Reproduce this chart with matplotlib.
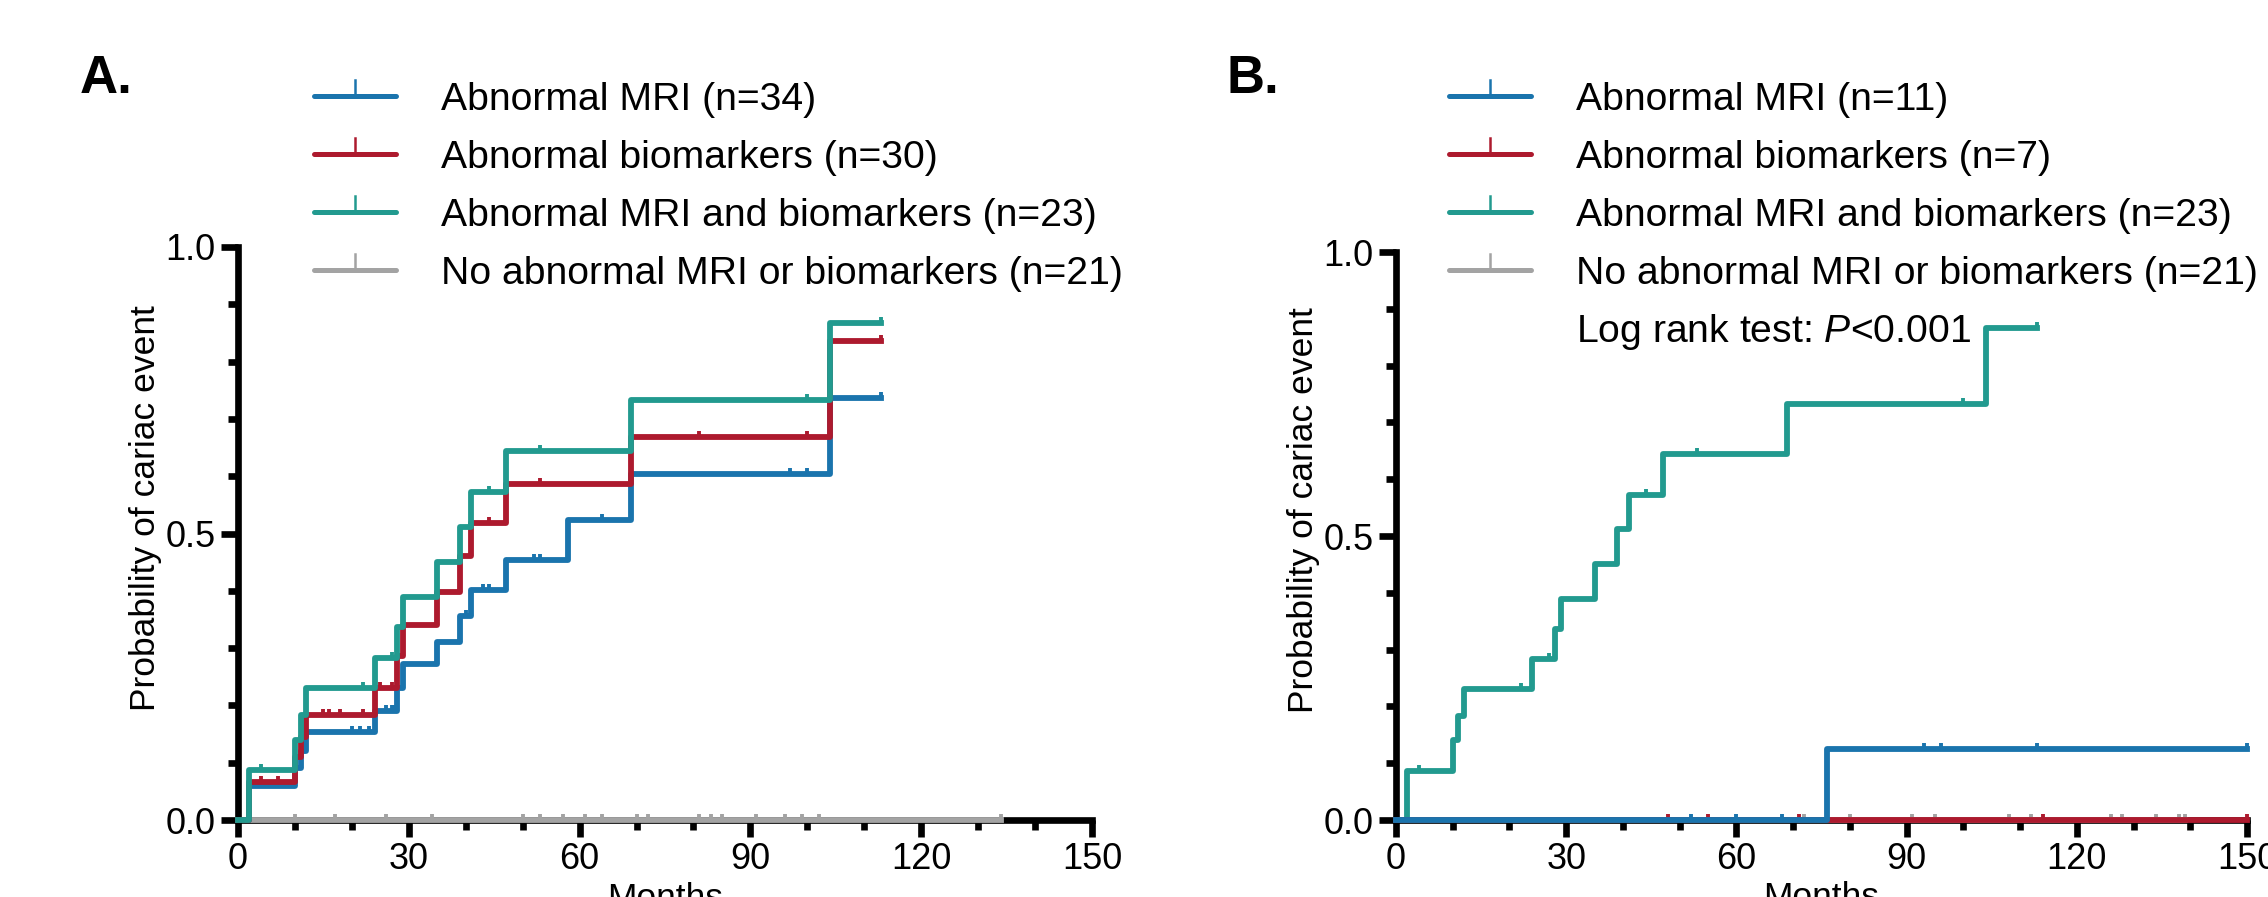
import numpy as np
import matplotlib
matplotlib.use('Agg')
import matplotlib.pyplot as plt
from matplotlib.path import Path
from matplotlib.lines import Line2D
from matplotlib.ticker import MultipleLocator, FormatStrFormatter

plt.rcParams['font.family'] = ['Liberation Sans', 'DejaVu Sans']
plt.rcParams['mathtext.fontset'] = 'custom'
plt.rcParams['mathtext.rm'] = 'Liberation Sans'
plt.rcParams['mathtext.it'] = 'Liberation Sans:italic'

BLUE = '#1a74ad'
RED = '#ad1a2e'
TEAL = '#229a8f'
GRAY = '#a3a3a3'

# ---- Panel A: event times (months), cumulative probability after each event, censor times
a_mri_t = [2, 10, 11, 12, 24, 28, 29, 35, 39, 41, 47, 58, 69, 104]
a_mri_p = [0.059, 0.091, 0.121, 0.153, 0.191, 0.231, 0.272, 0.310, 0.356, 0.402, 0.454, 0.524, 0.603, 0.737]
a_mri_c = [4, 9, 20, 21.5, 23, 26, 27, 27.6, 40, 43, 44, 52, 53, 64, 97, 100, 113]

a_bio_t = [2, 10, 11, 12, 24, 28, 29, 35, 39, 41, 47, 69, 104]
a_bio_p = [0.067, 0.110, 0.144, 0.184, 0.231, 0.287, 0.340, 0.398, 0.460, 0.518, 0.587, 0.669, 0.836]
a_bio_c = [4, 7, 15, 16, 18, 22, 25, 27, 44, 53, 81, 100, 113]

both_t = [2, 10, 11, 12, 24, 28, 29, 35, 39, 41, 47, 69, 104]
both_p = [0.087, 0.140, 0.183, 0.231, 0.283, 0.337, 0.389, 0.450, 0.512, 0.573, 0.644, 0.733, 0.867]
both_c = [4, 22, 27, 44, 53, 100, 113]

a_none_t = []
a_none_p = []
a_none_c = [10, 17, 26, 34, 50, 53, 57, 61, 64, 70, 72, 81, 83, 85, 91, 96, 99, 102, 134]

# ---- Panel B
b_mri_t = [76]
b_mri_p = [0.125]
b_mri_c = [52, 60, 68, 93, 96, 113, 150]

b_bio_t = []
b_bio_p = []
b_bio_c = [48, 55, 71, 114, 150]

b_none_t = []
b_none_p = []
b_none_c = [72, 80, 91, 95, 108, 112, 126, 128, 134, 138, 139]

labels_a = ['Abnormal MRI (n=34)', 'Abnormal biomarkers (n=30)',
            'Abnormal MRI and biomarkers (n=23)', 'No abnormal MRI or biomarkers (n=21)']
labels_b = ['Abnormal MRI (n=11)', 'Abnormal biomarkers (n=7)',
            'Abnormal MRI and biomarkers (n=23)', 'No abnormal MRI or biomarkers (n=21)']

UP = Path([(0, 0), (0, 1)])
W, H = 2268, 897


def km(ax, t, p, cens, color):
    t = np.asarray(t, float)
    p = np.asarray(p, float)
    end = max(cens)
    xs = np.r_[0, t, end]
    ys = np.r_[0, p, p[-1] if len(p) else 0]
    ax.step(xs, ys, where='post', color=color, lw=4.2, zorder=3, clip_on=False)
    c = np.asarray(cens, float)
    idx = np.searchsorted(t, c, side='right')
    yc = np.r_[0, p][idx]
    ax.plot(c, yc, ls='none', marker=UP, ms=9, mew=2.8, mec=color, zorder=3, clip_on=False)


def style(ax):
    for s in ['top', 'right']:
        ax.spines[s].set_visible(False)
    for s in ['left', 'bottom']:
        ax.spines[s].set_linewidth(4.8)
    ax.set_xlim(0, 150)
    ax.set_ylim(0, 1)
    ax.xaxis.set_major_locator(MultipleLocator(30))
    ax.xaxis.set_minor_locator(MultipleLocator(10))
    ax.yaxis.set_major_locator(MultipleLocator(0.5))
    ax.yaxis.set_minor_locator(MultipleLocator(0.1))
    ax.yaxis.set_major_formatter(FormatStrFormatter('%.1f'))
    ax.tick_params(which='major', length=12, width=4.8, labelsize=26, pad=4)
    ax.tick_params(which='minor', length=7, width=4.8)
    ax.set_ylabel('Probability of cariac event', fontsize=25.5)
    ax.yaxis.set_label_coords(-0.089, 0.545)
    ax.set_xlabel('Months', fontsize=25.5)
    ax.xaxis.set_label_coords(0.5, -0.108)
    ax.xaxis.label.set_va('top')


def key(fig, x0, y_rows, labels, colors):
    for y, lab, col in zip(y_rows, labels, colors):
        yf = 1 - y / H
        fig.add_artist(Line2D([x0 / W, (x0 + 82) / W], [yf, yf], color=col, lw=3.6,
                              solid_capstyle='round', transform=fig.transFigure))
        fig.add_artist(Line2D([(x0 + 41) / W, (x0 + 41) / W], [yf, 1 - (y - 16) / H], color=col,
                              lw=1.8, transform=fig.transFigure))
        fig.text((x0 + 127) / W, 1 - (y + 14) / H, lab, fontsize=28.2, va='baseline', ha='left')


fig = plt.figure(figsize=(22.68, 8.97), dpi=100)
axA = fig.add_axes([238 / W, 1 - 820 / H, 854 / W, 573 / H])
axB = fig.add_axes([1396 / W, 1 - 820 / H, 851 / W, 568 / H])

km(axA, a_none_t, a_none_p, a_none_c, GRAY)
km(axA, a_mri_t, a_mri_p, a_mri_c, BLUE)
km(axA, a_bio_t, a_bio_p, a_bio_c, RED)
km(axA, both_t, both_p, both_c, TEAL)

km(axB, b_none_t, b_none_p, b_none_c, GRAY)
km(axB, both_t, both_p, both_c, TEAL)
km(axB, b_bio_t, b_bio_p, b_bio_c, RED)
km(axB, b_mri_t, b_mri_p, b_mri_c, BLUE)

style(axA)
style(axB)

rows = [96, 154, 212, 270]
cols = [BLUE, RED, TEAL, GRAY]
key(fig, 314, rows, labels_a, cols)
key(fig, 1449, rows, labels_b, cols)
fig.text(1576 / W, 1 - 342 / H, r'Log rank test: $\mathit{P}$<0.001', fontsize=28.2,
         va='baseline', ha='left')

fig.text(80 / W, 1 - 93 / H, 'A.', fontsize=38, fontweight='bold', va='baseline')
fig.text(1227 / W, 1 - 93 / H, 'B.', fontsize=38, fontweight='bold', va='baseline')

fig.savefig('out.png', dpi=100)
